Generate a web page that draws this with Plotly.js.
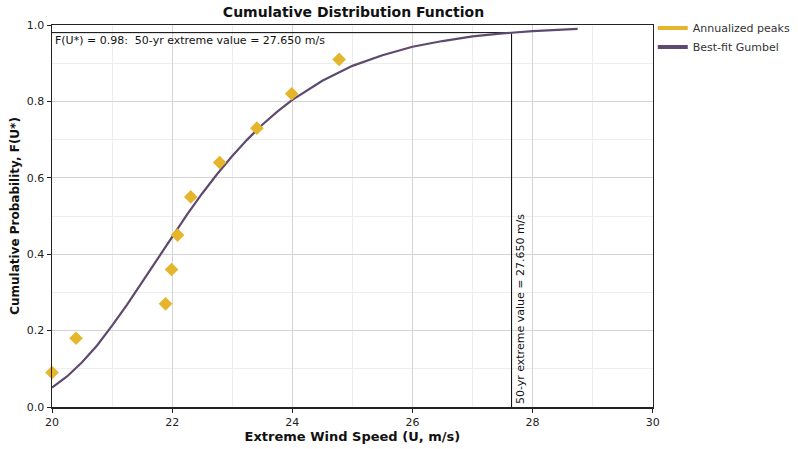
<!DOCTYPE html>
<html>
<head>
<meta charset="utf-8">
<script src="https://cdn.plot.ly/plotly-3.0.1.min.js"></script>
<style>html,body{margin:0;padding:0;background:#fff;}#chart{width:798px;height:449px;}</style>
</head>
<body>
<div id="chart"></div>
<script>
// Annualized peaks
const peakSpeed = [20.0, 20.4, 21.89, 21.99, 22.09, 22.31, 22.79, 23.41, 23.99, 24.78];
const peakProb  = [0.09, 0.18, 0.27, 0.36, 0.45, 0.55, 0.64, 0.73, 0.82, 0.91];
// Best-fit Gumbel curve
const fitSpeed = [20, 20.25, 20.5, 20.75, 21, 21.25, 21.5, 21.75, 22, 22.25, 22.5, 22.75, 23, 23.25, 23.5, 23.75, 24, 24.5, 25, 25.5, 26, 26.5, 27, 27.5, 28, 28.5, 28.75];
const fitProb  = [0.051, 0.080, 0.117, 0.161, 0.213, 0.268, 0.327, 0.387, 0.447, 0.504, 0.559, 0.610, 0.657, 0.700, 0.739, 0.773, 0.804, 0.854, 0.893, 0.921, 0.943, 0.958, 0.970, 0.978, 0.984, 0.988, 0.990];
// 50-yr extreme value
const extremeSpeed = 27.65;
const extremeProb = 0.98;
const xTicks = [20, 22, 24, 26, 28, 30];
const yTicks = [0, 0.2, 0.4, 0.6, 0.8, 1.0];

const gold = '#E5B52C';
const purple = '#5E4A6E';
const font = 'DejaVu Sans, Verdana, sans-serif';

const traces = [
  {x: [extremeSpeed, extremeSpeed, null, fitSpeed[0], extremeSpeed], y: [0, extremeProb, null, extremeProb, extremeProb],
   mode: 'lines', line: {color: '#000', width: 1}, showlegend: false, hoverinfo: 'skip'},
  {x: fitSpeed, y: fitProb, mode: 'lines', line: {color: purple, width: 2.2}, showlegend: false},
  {x: peakSpeed, y: peakProb, mode: 'markers', marker: {symbol: 'diamond', size: 10.5, color: gold}, showlegend: false, cliponaxis: false},
  {x: [null], y: [null], mode: 'lines', name: 'Annualized peaks', line: {color: gold, width: 4}},
  {x: [null], y: [null], mode: 'lines', name: 'Best-fit Gumbel', line: {color: purple, width: 4}}
];

const layout = {
  width: 798, height: 449,
  margin: {l: 52, r: 144, t: 25, b: 42},
  paper_bgcolor: '#fff', plot_bgcolor: '#fff',
  font: {family: font, size: 11, color: '#222'},
  title: {text: '<b>Cumulative Distribution Function</b>', font: {family: font, size: 14, color: '#111'},
          x: 0.443, xanchor: 'center', y: 0.985, yanchor: 'top'},
  showlegend: true,
  legend: {xref: 'container', yref: 'container', x: 0.818, xanchor: 'left', y: 0.97, yanchor: 'top',
           font: {family: font, size: 11, color: '#333'},
           bgcolor: 'rgba(0,0,0,0)', itemwidth: 30, tracegroupgap: 0},
  xaxis: {range: [20, 30], tickvals: xTicks, ticktext: xTicks.map(String),
          showline: true, linecolor: '#222', linewidth: 1.5, mirror: true,
          ticks: 'outside', ticklen: 4, tickcolor: '#222',
          showgrid: true, gridcolor: '#d4d4d4', gridwidth: 1, zeroline: false,
          minor: {dtick: 1, tick0: 21, showgrid: true, gridcolor: '#ededed', ticks: ''},
          tickfont: {family: font, size: 11, color: '#222'},
          title: {text: '<b>Extreme Wind Speed (U, m/s)</b>', font: {family: font, size: 13, color: '#111'}, standoff: 4}},
  yaxis: {range: [0, 1.0], tickvals: yTicks, ticktext: yTicks.map(v => v.toFixed(1)),
          showline: true, linecolor: '#222', linewidth: 1.5, mirror: true,
          ticks: 'outside', ticklen: 4, tickcolor: '#222',
          showgrid: true, gridcolor: '#d4d4d4', gridwidth: 1, zeroline: false,
          minor: {dtick: 0.2, tick0: 0.1, showgrid: true, gridcolor: '#ededed', ticks: ''},
          tickfont: {family: font, size: 11, color: '#222'},
          title: {text: '<b>Cumulative Probability, F(U*)</b>', font: {family: font, size: 12, color: '#111'}, standoff: 4}},
  annotations: [
    {x: fitSpeed[0], y: extremeProb, xref: 'x', yref: 'y', xanchor: 'left', yanchor: 'top', showarrow: false,
     text: 'F(U*) = ' + extremeProb.toFixed(2) + ':  50-yr extreme value = ' + extremeSpeed.toFixed(3) + ' m/s',
     font: {family: font, size: 11, color: '#111'}, xshift: 1, yshift: 1},
    {x: extremeSpeed, y: 0, xref: 'x', yref: 'y', xanchor: 'left', yanchor: 'bottom', showarrow: false, textangle: -90,
     text: '50-yr extreme value = ' + extremeSpeed.toFixed(3) + ' m/s',
     font: {family: font, size: 11, color: '#111'}, xshift: 0, yshift: 1}
  ]
};

Plotly.newPlot('chart', traces, layout, {displayModeBar: false, staticPlot: true});
</script>
</body>
</html>
